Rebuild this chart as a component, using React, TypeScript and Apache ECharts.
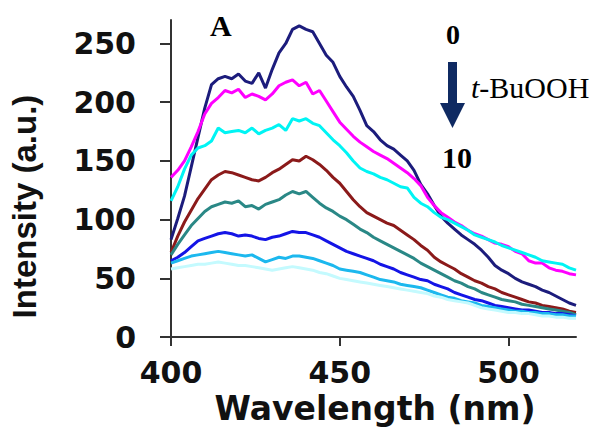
import React, { useEffect, useRef } from "react";
import * as echarts from "echarts";

const wavelengths = [
  400, 402, 404, 406, 408, 410, 412, 414, 416, 418, 420, 422, 424, 426, 428, 430,
  432, 434, 436, 438, 440, 442, 444, 446, 448, 450, 452, 454, 456, 458, 460, 462,
  464, 466, 468, 470, 472, 474, 476, 478, 480, 482, 484, 486, 488, 490, 492, 494,
  496, 498, 500, 502, 504, 506, 508, 510, 512, 514, 516, 518, 520,
];

const s0 = [
  83, 101, 120, 145, 170, 195, 215, 220, 222, 220, 224, 218, 216, 225, 212, 228,
  242, 250, 262, 265, 262, 260, 250, 240, 234, 222, 213, 205, 193, 180, 175, 168,
  163, 160, 155, 150, 142, 130, 122, 112, 103, 97, 92, 87, 83, 79, 74, 68,
  61, 57, 54, 50, 47, 45, 43, 40, 38, 35, 32, 29, 27,
];
const s1 = [
  136, 142, 150, 162, 175, 190, 199, 204, 210, 208, 211, 204, 207, 205, 202, 207,
  214, 217, 219, 214, 217, 207, 210, 201, 192, 183, 177, 171, 166, 162, 158, 155,
  152, 148, 144, 140, 135, 129, 119, 112, 106, 102, 98, 95, 91, 88, 86, 83,
  80, 79, 77, 73, 71, 65, 63, 63, 59, 57, 56, 54, 53,
];
const s2 = [
  116, 128, 143, 155, 161, 163, 167, 178, 174, 175, 176, 174, 178, 173, 176, 178,
  181, 176, 186, 184, 186, 182, 180, 174, 168, 163, 157, 150, 144, 141, 139, 136,
  134, 131, 128, 127, 119, 114, 111, 106, 102, 100, 97, 94, 91, 87, 85, 83,
  81, 78, 76, 74, 72, 70, 68, 65, 64, 63, 62, 59, 57,
];
const s3 = [
  72, 86, 98, 108, 118, 126, 134, 138, 141, 140, 138, 136, 134, 133, 136, 140,
  143, 147, 151, 150, 154, 151, 147, 142, 136, 131, 124, 117, 111, 106, 103, 100,
  97, 95, 91, 87, 83, 78, 74, 68, 64, 61, 58, 54, 51, 48, 46, 43,
  41, 38, 36, 34, 32, 30, 29, 27, 26, 25, 24, 22, 21,
];
const s4 = [
  70, 79, 87, 95, 101, 107, 111, 113, 115, 114, 116, 111, 112, 109, 113, 115,
  117, 121, 124, 122, 124, 119, 114, 110, 107, 103, 100, 96, 92, 89, 85, 82,
  79, 76, 73, 70, 67, 63, 60, 57, 54, 51, 48, 46, 43, 41, 38, 36,
  34, 32, 31, 30, 28, 27, 26, 25, 24, 23, 22, 21, 19,
];
const s5 = [
  65, 68, 72, 77, 82, 84, 86, 88, 89, 88, 86, 87, 86, 84, 83, 85,
  86, 88, 90, 89, 89, 87, 85, 82, 79, 76, 73, 71, 69, 67, 65, 62,
  60, 58, 55, 53, 51, 49, 48, 45, 43, 41, 38, 36, 34, 32, 31, 29,
  27, 26, 25, 24, 23, 23, 22, 21, 21, 20, 20, 19, 18,
];
const s6 = [
  63, 65, 67, 69, 70, 71, 72, 73, 72, 71, 70, 69, 70, 67, 64, 66,
  68, 67, 69, 69, 68, 67, 65, 63, 61, 58, 57, 56, 55, 53, 51, 49,
  48, 47, 45, 44, 43, 42, 40, 38, 36, 34, 33, 31, 30, 29, 27, 26,
  25, 24, 23, 22, 22, 21, 21, 20, 20, 19, 19, 18, 18,
];
const s7 = [
  58, 59, 60, 61, 62, 62, 63, 64, 63, 62, 61, 61, 60, 59, 58, 57,
  58, 59, 60, 59, 58, 57, 55, 54, 52, 50, 49, 48, 47, 46, 45, 44,
  43, 42, 41, 40, 39, 38, 37, 35, 34, 32, 31, 30, 29, 27, 25, 24,
  23, 22, 21, 21, 20, 20, 19, 18, 18, 17, 17, 16, 16,
];

const seriesValues = [s0, s1, s2, s3, s4, s5, s6, s7];
const seriesNames = ["0", "1", "2", "3", "4", "5", "6", "10"];
const seriesColors = [
  "#1c1c7c",
  "#ff00ff",
  "#00f4f4",
  "#8b1a1a",
  "#2a8886",
  "#1414e6",
  "#1cb8ee",
  "#c4fafe",
];

const xTicks = [400, 450, 500];
const yTicks = [0, 50, 100, 150, 200, 250];

export default function App() {
  const ref = useRef<HTMLDivElement>(null);
  useEffect(() => {
    if (!ref.current) return;
    const chart = echarts.init(ref.current, undefined, { renderer: "svg" });
    const tickFont = {
      fontFamily: "DejaVu Sans",
      fontWeight: "bold" as const,
      fontSize: 30,
      color: "#111",
    };
    chart.setOption({
      animation: false,
      backgroundColor: "#ffffff",
      grid: { left: 171, right: 28, top: 20, bottom: 84, containLabel: false },
      xAxis: {
        type: "value",
        min: 400,
        max: 520,
        interval: 50,
        name: "Wavelength (nm)",
        nameLocation: "middle",
        nameGap: 50,
        nameTextStyle: {
          fontFamily: "DejaVu Sans",
          fontWeight: "bold",
          fontSize: 33,
          color: "#111",
          padding: [0, 0, 0, 3],
        },
        axisLine: { show: true, lineStyle: { color: "#333", width: 2 } },
        axisTick: {
          show: true,
          length: 9,
          customValues: xTicks,
          lineStyle: { color: "#333", width: 2 },
        },
        axisLabel: { ...tickFont, margin: 20, customValues: xTicks },
        splitLine: { show: false },
      },
      yAxis: {
        type: "value",
        min: 0,
        max: 270,
        interval: 50,
        name: "Intensity (a.u.)",
        nameLocation: "middle",
        nameGap: 130,
        nameTextStyle: {
          fontFamily: "Liberation Sans",
          fontWeight: "bold",
          fontSize: 33,
          color: "#111",
          padding: [0, 56, 0, 0],
        },
        axisLine: { show: true, lineStyle: { color: "#333", width: 2 } },
        axisTick: {
          show: true,
          length: 11,
          customValues: yTicks,
          lineStyle: { color: "#333", width: 2 },
        },
        axisLabel: { ...tickFont, margin: 35, customValues: yTicks },
        splitLine: { show: false },
      },
      series: seriesValues.map((vals, i) => ({
        name: seriesNames[i],
        type: "line",
        showSymbol: false,
        symbol: "none",
        data: wavelengths.map((w, j) => [w, vals[j]]),
        lineStyle: { color: seriesColors[i], width: 3 },
        itemStyle: { color: seriesColors[i] },
        z: 2 + i,
      })),
      graphic: [
        {
          type: "text",
          left: 210,
          top: 10,
          style: {
            text: "A",
            font: "bold 30px 'Liberation Serif'",
            fill: "#000",
          },
        },
        {
          type: "text",
          left: 446,
          top: 20,
          style: {
            text: "0",
            font: "bold 28px 'Liberation Serif'",
            fill: "#000",
          },
        },
        {
          type: "rect",
          shape: { x: 448, y: 62, width: 9, height: 42 },
          style: { fill: "#0f2a62" },
        },
        {
          type: "polygon",
          shape: {
            points: [
              [440, 103],
              [465, 103],
              [452.5, 128],
            ],
          },
          style: { fill: "#0f2a62" },
        },
        {
          type: "text",
          left: 471,
          top: 72,
          style: {
            text: "{i|t}{n|-BuOOH}",
            rich: {
              i: {
                fontFamily: "Liberation Serif",
                fontStyle: "italic",
                fontSize: 30,
                fill: "#000",
              },
              n: { fontFamily: "Liberation Serif", fontSize: 30, fill: "#000" },
            },
          },
        },
        {
          type: "text",
          left: 442,
          top: 142,
          style: {
            text: "10",
            font: "bold 30px 'Liberation Serif'",
            fill: "#000",
          },
        },
      ],
    });
    return () => chart.dispose();
  }, []);
  return (
    <div
      ref={ref}
      style={{ position: "fixed", left: 0, top: 0, width: 604, height: 430 }}
    />
  );
}
